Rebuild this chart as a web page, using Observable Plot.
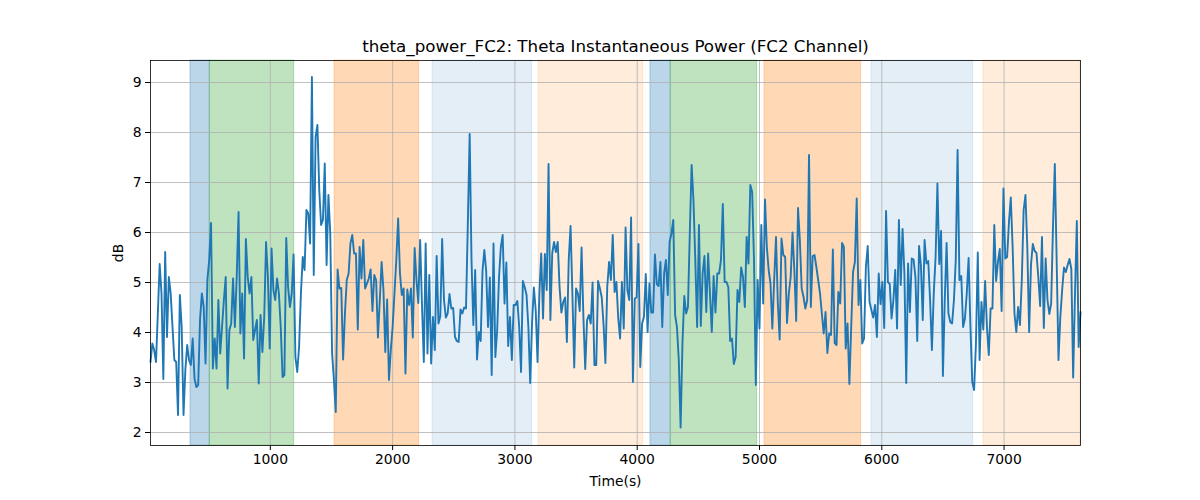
<!DOCTYPE html>
<html>
<head>
<meta charset="utf-8">
<script src="https://cdn.jsdelivr.net/npm/d3@7"></script>
<script src="https://cdn.jsdelivr.net/npm/@observablehq/plot@0.6"></script>
<style>
  html, body { margin: 0; padding: 0; background: #fff; }
  #chart { width: 1200px; height: 500px; }
</style>
</head>
<body>
<div id="chart"></div>
<script>
// ---- data ----
const titleText = "theta_power_FC2: Theta Instantaneous Power (FC2 Channel)";
const xLabel = "Time(s)";
const yLabel = "dB";
const startTime = 20;     // s, first sample
const sampleStep = 15;    // s between samples
const power = [
  3.41,3.78,3.65,3.41,4.38,5.37,4.78,3.07,5.61,3.91,5.11,4.78,4.11,3.45,3.41,2.35,4.75,4.11,2.35,3.25,
  3.75,3.45,3.35,3.88,3.08,2.91,2.95,4.25,4.78,4.51,3.38,5.05,5.45,6.19,3.28,3.88,3.28,4.65,3.58,4.11,
  4.65,5.11,2.88,4.05,4.18,5.08,4.11,5.11,6.41,3.98,4.78,3.48,5.87,5.11,4.78,5.11,3.85,4.05,4.25,2.98,
  4.35,3.61,4.31,5.81,5.11,
  3.68,5.68,4.85,4.65,5.08,4.78,4.11,3.11,3.15,5.89,4.91,4.51,4.78,5.56,3.51,3.21,3.71,4.78,5.51,5.25,
  6.45,6.38,5.78,9.11,5.15,7.91,8.15,6.85,6.15,6.25,7.38,5.35,6.75,5.98,3.58,3.05,2.41,5.26,4.88,4.89,
  3.46,4.38,5.05,5.18,5.78,5.95,5.58,5.58,4.06,5.71,5.08,5.85,4.88,4.98,5.08,5.26,4.43,5.15,5.05,3.90,
  4.65,5.41,4.85,
  3.61,4.66,3.05,3.65,4.11,4.78,5.45,6.28,5.18,4.75,4.88,3.18,4.86,4.55,4.88,3.90,5.69,5.05,4.59,5.85,
  4.55,3.41,5.78,3.58,5.15,3.38,4.31,3.65,5.53,4.18,4.33,5.87,4.65,4.30,4.38,4.77,4.48,4.49,3.91,3.83,
  3.81,4.46,4.38,4.50,4.48,6.18,7.97,5.45,4.15,5.25,3.46,4.01,3.83,5.23,5.65,5.23,4.11,5.10,3.15,5.78,
  3.51,4.05,5.11,
  5.71,5.95,4.58,5.40,3.73,4.31,3.45,4.55,4.55,4.63,4.11,3.21,5.03,4.91,4.75,4.11,2.99,4.18,4.90,4.45,
  3.41,4.78,5.58,4.28,5.57,4.85,7.37,4.25,5.58,5.81,5.61,5.81,4.91,4.40,4.61,4.70,3.81,5.45,6.13,4.78,
  3.30,4.88,4.78,4.43,5.70,4.31,3.27,4.25,4.35,4.18,5.00,3.35,3.35,5.03,4.88,4.70,4.15,3.39,4.91,5.41,
  5.05,5.95,
  4.81,5.01,4.28,3.88,5.01,4.08,6.10,4.85,4.65,6.30,3.01,4.68,4.70,5.77,3.31,4.18,4.31,5.17,4.01,4.98,
  4.40,4.40,5.56,4.97,4.93,5.41,4.11,5.18,5.45,4.75,5.81,5.98,6.25,4.35,4.11,3.45,2.10,3.78,4.73,4.38,
  4.51,5.98,7.35,6.65,5.45,4.11,6.15,4.13,5.18,5.53,4.41,5.58,4.78,4.01,5.13,4.40,5.18,5.18,5.45,6.57,
  5.01,5.01,4.91,
  3.83,3.88,3.37,3.51,4.85,4.61,5.30,5.11,4.51,5.91,5.38,6.95,6.81,5.45,2.95,5.05,4.08,6.15,4.58,6.66,
  5.71,5.25,4.98,4.08,5.05,5.91,4.58,3.86,5.88,5.55,5.51,4.19,4.78,5.11,6.00,5.25,4.23,6.49,5.85,4.88,
  4.71,4.48,4.65,7.55,4.51,5.53,5.55,5.31,5.05,4.78,4.38,3.98,4.41,3.59,3.98,3.95,5.66,3.79,3.75,4.81,
  4.58,5.79,5.71,
  3.68,4.18,2.97,4.11,5.21,5.41,6.68,4.55,5.05,3.78,3.88,5.31,5.73,4.61,4.45,4.30,4.55,3.91,5.18,4.57,
  5.01,4.09,6.43,5.01,4.97,4.28,4.65,5.25,4.08,6.25,4.95,6.07,5.18,2.99,5.38,4.41,5.48,5.46,5.11,3.83,
  5.73,5.35,4.25,5.85,5.38,5.43,4.65,3.65,4.78,5.51,6.98,5.37,6.03,3.13,4.65,5.79,4.38,4.21,4.18,4.65,
  5.45,7.65,
  5.05,5.13,4.11,4.28,4.78,5.49,4.11,3.01,2.85,3.78,5.60,3.45,4.61,4.06,5.03,4.11,3.55,4.48,4.48,6.15,
  5.03,5.41,5.67,4.43,6.88,5.48,5.51,6.21,6.70,5.71,4.38,4.01,4.51,4.15,5.05,6.45,6.75,5.71,4.01,5.35,
  5.77,5.63,5.59,5.11,4.53,5.91,4.09,5.48,4.65,4.37,4.58,6.11,7.37,5.45,3.45,4.31,4.85,5.30,5.21,5.35,
  5.47,5.27,3.10,4.78,6.23,3.71,4.41
];
// shaded periods
const bandStart = [347, 505, 1525, 2326, 3193, 4108, 4274, 5041, 5916, 6831];
const bandEnd   = [505, 1195, 2217, 3141, 4049, 4274, 4981, 5831, 6747, 7625];
const bandKind  = ["A", "B", "C", "D", "E", "A", "B", "C", "D", "E"];
const xTicks = [1000, 2000, 3000, 4000, 5000, 6000, 7000];
const yTicks = [2, 3, 4, 5, 6, 7, 8, 9];

// ---- build tables ----
const series = power.map((v, i) => ({t: startTime + i * sampleStep, v}));
const kindStyle = {
  A: {color: "#1f77b4", op: 0.3},
  B: {color: "#2ca02c", op: 0.3},
  C: {color: "#ff7f0e", op: 0.3},
  D: {color: "#1f77b4", op: 0.12},
  E: {color: "#ff7f0e", op: 0.15}
};
const bands = bandStart.map((s, i) => ({x1: s, x2: bandEnd[i], kind: bandKind[i]}));
const tMax = series[series.length - 1].t;

const marks = [];
for (const k of Object.keys(kindStyle)) {
  const st = kindStyle[k];
  marks.push(Plot.rect(bands.filter(b => b.kind === k), {
    x1: "x1", x2: "x2", fill: st.color, fillOpacity: st.op,
    stroke: st.color, strokeOpacity: st.op, strokeWidth: 1
  }));
}
marks.push(
  Plot.gridX(xTicks, {stroke: "#b0b0b0", strokeOpacity: 1, strokeWidth: 0.8}),
  Plot.gridY(yTicks, {stroke: "#b0b0b0", strokeOpacity: 1, strokeWidth: 0.8}),
  Plot.line(series, {x: "t", y: "v", stroke: "#1f77b4", strokeWidth: 1.9, strokeLinejoin: "round"}),
  Plot.frame({stroke: "black", strokeWidth: 0.8}),
  Plot.axisX(xTicks, {tickSize: 5, tickPadding: 4, tickFormat: d3.format("d"), label: null, fontSize: 13.9}),
  Plot.axisY(yTicks, {tickSize: 5, tickPadding: 4, tickFormat: d3.format("d"), label: null, fontSize: 13.9}),
  Plot.text([titleText], {frameAnchor: "top", lineAnchor: "middle", dy: -14, fontSize: 16.7, fill: "black"}),
  Plot.text([xLabel], {frameAnchor: "bottom", lineAnchor: "middle", dy: 36, fontSize: 13.9, fill: "black"}),
  Plot.text([yLabel], {frameAnchor: "left", textAnchor: "middle", lineAnchor: "middle", dx: -32, rotate: -90, fontSize: 13.9, fill: "black"})
);

const chart = Plot.plot({
  width: 1200,
  height: 500,
  marginTop: 60,
  marginBottom: 55,
  marginLeft: 150,
  marginRight: 120,
  style: {fontFamily: "DejaVu Sans", fontSize: "13.9px", color: "black", background: "white"},
  x: {domain: [startTime, tMax]},
  y: {domain: [1.74, 9.44]},
  marks
});
document.getElementById("chart").appendChild(chart);
</script>
</body>
</html>
